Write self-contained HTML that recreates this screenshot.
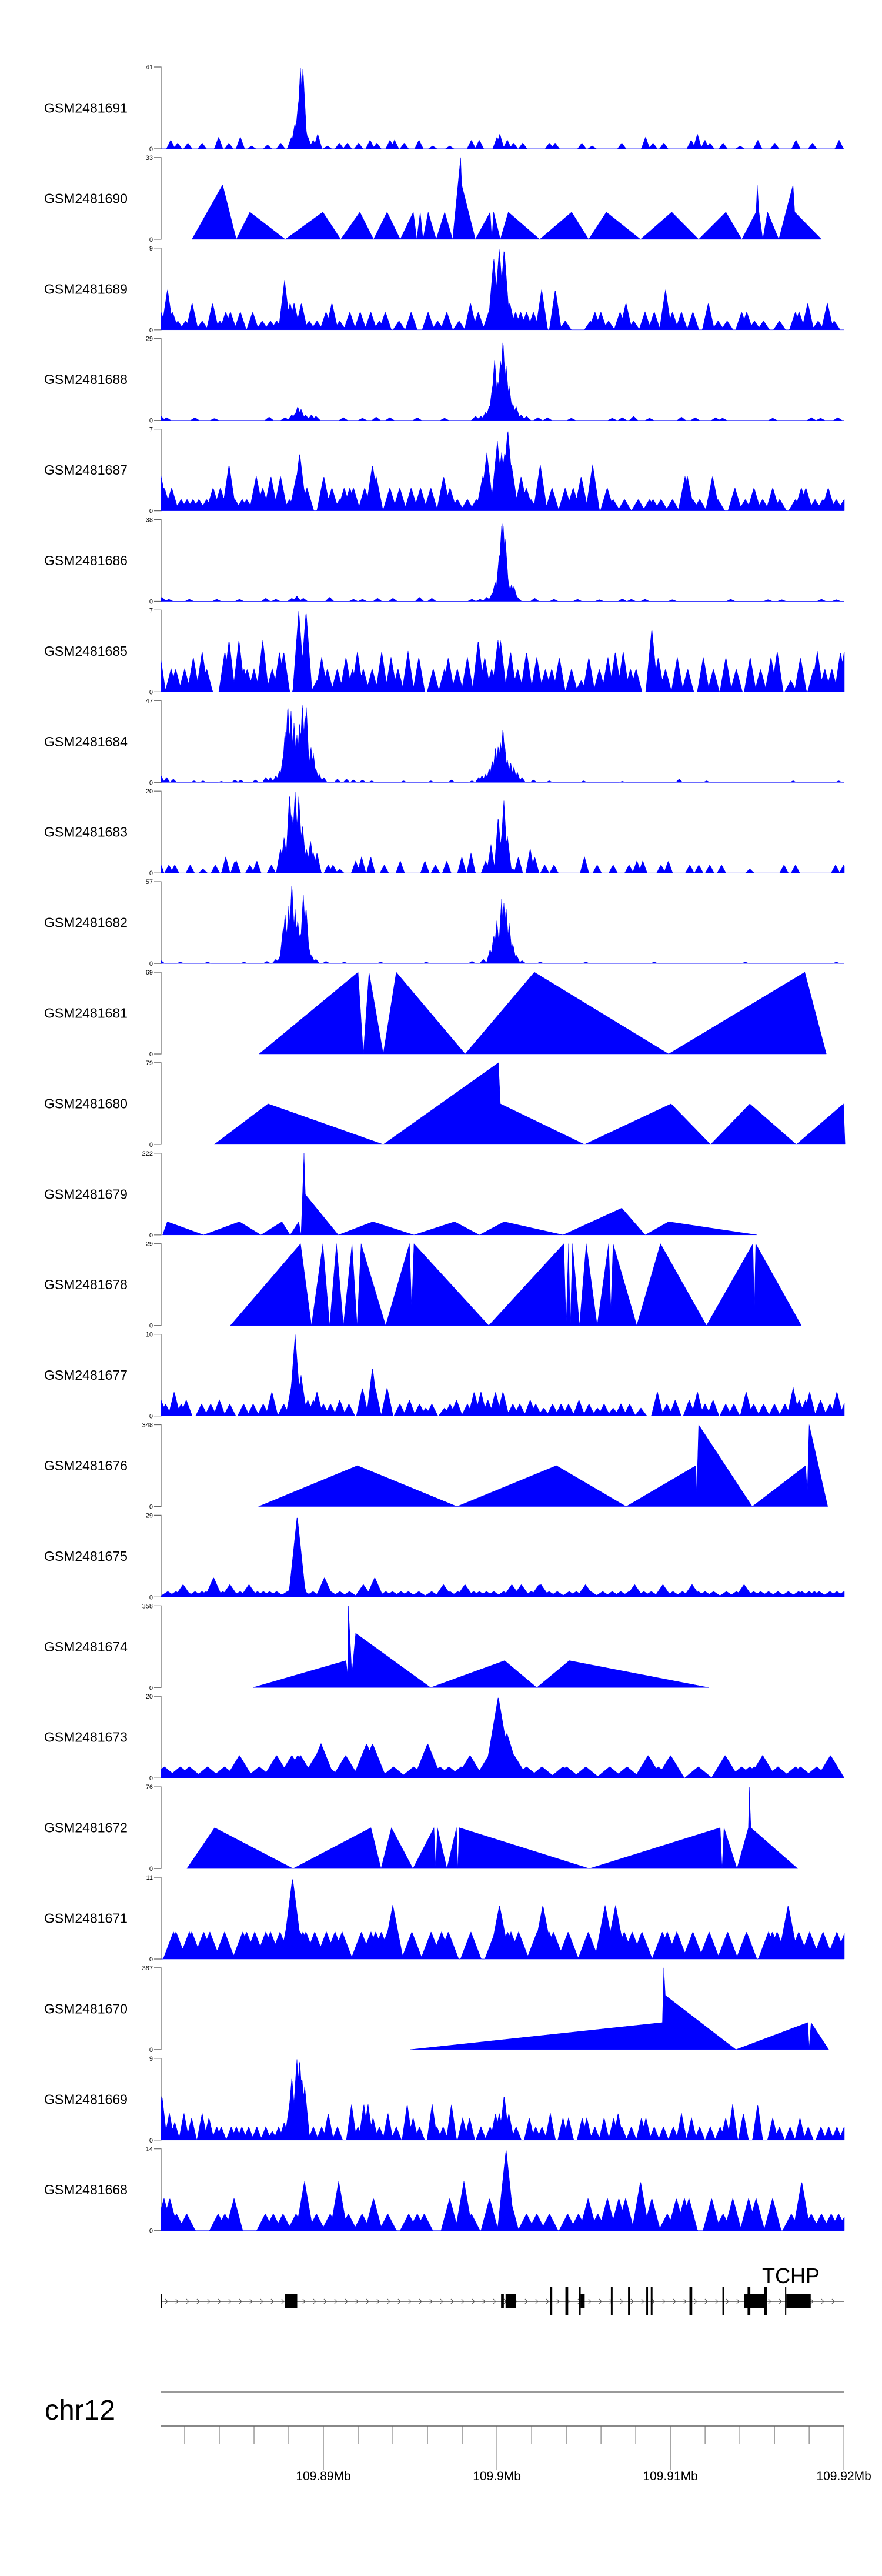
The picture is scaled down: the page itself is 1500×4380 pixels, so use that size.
<!DOCTYPE html>
<html><head><meta charset="utf-8"><title>Gviz tracks chr12</title>
<style>
html,body{margin:0;padding:0;background:#fff;}
svg{display:block;}
text{font-family:"Liberation Sans",sans-serif;}
</style></head>
<body>
<svg id="chart" width="1500" height="4380" viewBox="0 0 1500 4380" xmlns="http://www.w3.org/2000/svg">
<rect x="0" y="0" width="1500" height="4380" fill="#fff"/>
<g id="tracks"></g>
<g id="gene"></g>
<g id="axis"></g>
</svg>
<script>
// ---- genomic coordinates in kb offset from 109.88 Mb ----
const trackNames = ["GSM2481691","GSM2481690","GSM2481689","GSM2481688","GSM2481687","GSM2481686","GSM2481685","GSM2481684","GSM2481683","GSM2481682","GSM2481681","GSM2481680","GSM2481679","GSM2481678","GSM2481677","GSM2481676","GSM2481675","GSM2481674","GSM2481673","GSM2481672","GSM2481671","GSM2481670","GSM2481669","GSM2481668"];
const trackMax = [41,33,9,29,7,38,7,47,20,57,69,79,222,29,10,348,29,358,20,76,11,387,9,14];
const trackKind = ["spike","line","spike","spike","spike","spike","spike","spike","spike","spike","line","line","line","line","spike","line","spike","line","spike","line","spike","line","spike","spike"];
const spikeHalfWidth = [0.25,0,0.35,0.25,0.4,0.25,0.35,0.2,0.25,0.22,0,0,0,0,0.35,0,0.5,0,0.8,0,0.6,0,0.3,0.5];

const pos1691=[1.20,1.60,2.19,3.01,3.96,4.55,5.21,5.86,6.78,7.54,8.16,8.36,8.55,8.68,8.82,8.95,9.11,9.41,9.67,10.23,10.92,11.38,12.03,12.69,13.08,13.84,14.10,14.66,15.51,16.30,17.28,18.53,18.99,20.01,20.17,20.60,20.96,21.49,23.03,23.36,24.90,25.49,27.20,28.57,29.0,29.62,31.20,31.56,31.99,32.28,33.04,34.02,35.04,36.02,37.24,38.19,39.73];
const val1691=[4.5,3,3,3,6,3,6,1.5,2,3,6,13,23,41,41,12,6,4.5,7.5,1.5,3,3,3,4.5,3,4.5,4.5,3,4.5,1.5,1.5,4.5,4.5,6,7.5,4.5,3,3,3,3,3,1.5,3,6,3,3,4.5,7.5,4.5,3,3,1.5,4.5,3,4.5,3,4.5];

const pos1690=[2.42,4.19,4.98,5.76,7.80,9.97,11.0,12.10,12.89,13.67,14.43,15.18,15.38,15.58,15.74,16.04,16.50,16.99,17.45,17.91,17.97,18.76,19.61,19.71,19.81,20.20,20.66,22.47,24.31,25.29,26.31,28.28,30.08,31.63,33.20,34.12,34.94,35.01,35.11,35.33,35.60,36.25,37.07,37.17,38.71];
const val1690=[0,22,0,11,0,11,0,11,0,11,0,11,0,11,0,11,0,11,0,33,22,0,11,0,11,0,11,0,11,0,11,0,11,0,11,0,11,22,11,0,11,0,22,11,0];

const pos1689=[0.64,1.01,1.30,1.61,2.06,2.43,3.01,3.61,4.03,4.37,4.64,5.21,5.92,6.47,6.95,7.31,7.76,8.08,8.31,8.73,9.18,9.63,10.15,10.49,10.94,11.52,12.12,12.73,13.23,13.57,14.36,15.06,16.04,16.59,17.11,17.82,18.48,18.93,19.53,19.82,20.14,20.29,20.42,20.74,21.08,21.37,21.71,22.11,22.58,23.37,23.94,25.39,25.65,25.99,26.44,27.10,27.44,27.88,28.54,29.07,29.72,30.12,30.64,31.30,32.19,32.75,33.27,34.11,34.40,34.85,35.37,36.29,37.21,37.42,37.92,38.52,39.05,39.44];
const val1689=[2,4.5,2,1,1,3,1,3,1,2,2,2,2,1,1,1,5.5,3,3,3,1,1,2,3,1,2,2,2,1,2,1,2,2,1,2,1,3,2,2,8,9,5,9,3,2,2,2,2,4.5,4.5,1,1,2,2,1,2,3,1,2,2,4.5,2,2,2,3,1,1,2,2,1,1,1,2,2,3,1,3,1];

const pos1688=[0.64,0.96,2.59,3.72,6.87,7.79,8.18,8.37,8.52,8.71,8.97,9.31,9.57,11.15,12.25,13.04,13.83,15.41,16.98,18.77,19.08,19.35,19.56,19.74,19.87,20.06,20.21,20.35,20.53,20.71,20.92,21.11,21.40,21.71,22.37,22.92,24.29,26.65,27.23,27.88,28.80,30.64,31.43,32.61,33.01,35.90,38.13,38.66,39.65];
const val1688=[1.5,1,1,0.7,1.2,1,2,2.5,5,4,2,2,1.5,1,0.8,1.2,1,1,0.8,1.5,1.5,3,5,12,22,14,22,29,20,12,6,5,2,1.5,1,1,0.8,0.8,1,1.5,0.8,1.2,1,1,0.8,0.8,1,0.8,1];

const pos1687=[0.64,0.83,1.25,1.80,2.14,2.48,2.82,3.27,3.64,4.06,4.56,4.90,5.32,5.58,6.13,6.50,6.97,7.31,7.53,8.05,8.44,8.63,8.84,9.05,10.02,10.49,10.94,11.20,11.52,11.73,12.38,12.83,13.04,13.83,15.06,16.19,16.93,17.72,18.30,18.82,19.19,19.42,19.61,20.03,20.27,20.45,20.63,20.84,21.40,21.97,22.50,23.18,23.94,24.86,25.52,26.36,26.70,27.36,28.15,28.80,29.46,30.12,30.85,30.98,31.30,31.69,32.43,32.74,33.72,34.32,34.82,35.32,37.21,37.55,37.81,38.34,38.79,39.10,39.57,40.02,14.4,15.6,17.3,21.7,24.4,29.0,36.3,35.9];
const val1687=[3,2,2,1,1,1,1,1,2,2,4,1,1,1,3,2,3,1,3,1,3,5,2,2,3,2,1,2,2,2,2,4,3,2,2,2,3,1,1,1,3,5,1,6,5,5,7,4,3,1,4,2,2,3,4,2,1,1,1,1,1,1,3,3,1,1,3,1,2,1,2,1,1,2,2,1,1,2,1,1,2,2,2,2,2,1,1,2];

const pos1686=[0.69,1.09,2.27,3.85,5.16,6.68,7.26,8.18,8.47,8.84,10.36,11.73,12.25,13.12,14.01,15.54,16.25,18.56,19.03,19.42,19.74,19.90,20.14,20.27,20.35,20.48,20.66,20.84,20.98,21.18,22.18,23.29,24.65,25.91,27.23,27.75,28.54,30.12,33.48,35.63,36.42,38.71,39.57];
const val1686=[2,1,1,1,1,1.5,1,1.5,2.5,1.5,2,1,1,1.5,1.5,2,1.5,1,1,2,4,9,22,35,38,30,9,8,7,2,1.5,1,1,0.8,1.2,1,1,0.8,1,0.8,0.8,1,0.8];

const pos1685=[0.56,1.22,1.48,3.01,3.27,4.32,4.56,5.13,5.42,5.61,6.50,7.05,7.47,7.71,8.58,9.00,9.63,10.23,11.68,11.96,12.81,13.36,14.88,16.33,16.98,17.72,18.93,20.06,20.21,20.79,21.71,23.16,24.86,25.91,26.83,27.28,28.02,28.93,29.72,32.48,33.80,36.16,36.94,38.26,38.47,39.31,39.81,40.02,2.0,2.5,6.0,9.9,10.8,11.3,12.3,13.9,14.3,15.5,17.2,18.3,19.3,19.7,21.2,22.3,22.8,23.6,24.3,25.3,26.4,27.7,29.3,30.4,31.0,31.9,33.2,34.6,35.2,35.8,37.5,38.9];
const val1685=[3.5,2,2,3.5,2,3.5,4.5,4.5,2,2,4.5,2,3.5,3.5,7,7,1,2,2,3.5,2,3.5,3.5,2,2,2,4.5,4.5,4.5,3.5,3.5,2,1,2,3.5,3.5,2,5.5,2,2,2,3.5,1,2,3.5,2,3.5,3.5,2,3,2,3,2,3,2,3,2,3,3,3,3,2,2,3,2,3,2,3,3,2,3,3,2,3,3,3,2,3,3,2];

const pos1684=[0.64,0.96,1.35,2.54,3.06,4.11,4.90,5.24,6.08,6.68,6.95,7.26,7.47,7.66,7.79,7.95,8.13,8.31,8.47,8.63,8.79,8.94,9.02,9.10,9.28,9.42,9.57,9.76,10.02,10.81,11.33,11.73,12.25,12.78,14.62,16.19,17.38,18.56,18.95,19.14,19.35,19.56,19.74,19.92,20.08,20.21,20.35,20.45,20.61,20.79,20.98,21.18,21.45,22.11,23.02,25.00,27.23,30.51,32.09,37.08,39.70];
const val1684=[4,3,2,1,1,0.7,1.5,1.5,1.5,3,3,4,7,14,30,46,42,35,28,36,47,40,44,20,21,17,8,5,3,2,2,1.5,1.5,1,1,1,1.5,1,3,4,5,8,13,21,22,24,32,22,13,12,9,6,3,1.5,1,1,0.7,2,1,1,1];

const pos1683=[0.56,1.09,1.43,2.32,3.06,3.77,4.37,4.90,4.98,5.76,6.16,7.00,7.53,7.74,8.05,8.18,8.37,8.58,8.79,9.02,9.26,9.42,9.63,10.28,10.55,10.94,11.86,12.20,12.73,13.51,14.43,15.85,16.46,17.11,17.98,18.51,19.35,19.66,20.08,20.27,20.40,20.61,20.92,21.24,21.92,22.18,22.76,23.29,25.05,25.78,26.70,27.62,28.07,28.41,29.46,29.88,31.12,31.64,32.27,32.95,34.58,36.55,37.21,39.52,39.99];
const val1683=[3,2,2,2,1,2,4,3,3,2,3,2,6,9,20,15,20,19,12,6,8,5,5,2,2,1,3,4,4,2,3,3,2,3,4,5,3,7,14,9,18,9,1,4,6,4,2,2,4,2,2,2,3,3,2,3,2,2,2,2,1,2,2,2,2];

const pos1682=[0.64,1.75,3.32,5.42,6.74,7.26,7.53,7.68,7.79,8.00,8.18,8.37,8.52,8.66,8.84,9.00,9.15,9.31,9.57,10.15,11.20,13.30,15.93,18.56,19.22,19.61,19.82,20.00,20.27,20.40,20.53,20.71,20.92,21.13,21.45,22.50,25.13,29.07,34.32,39.57];
const val1682=[2,1,1,1,1.5,3,6,25,35,40,57,38,31,22,49,40,12,6,3,1.5,1,1,1,1.5,3,10,20,30,45,43,40,28,14,6,2,1,1,1,1,1];

const pos1681=[6.29,12.0,12.30,12.63,13.45,14.20,18.17,22.16,29.90,37.75,38.99];
const val1681=[0,69,0,69,0,69,0,69,0,69,0];

const pos1680=[3.70,6.81,13.45,20.09,20.20,25.05,30.04,32.32,34.58,37.26,39.98,40.07];
const val1680=[0,39.3,0,79,39.3,0,39.3,0,39.3,0,39.3,0];

const pos1679=[0.73,1.0,3.09,5.16,6.40,7.61,8.08,8.58,8.71,8.88,8.96,10.86,12.85,15.22,17.56,18.99,20.42,23.81,27.20,28.55,29.90,35.0];
const val1679=[0,36,0,36,0,36,0,36,0,222,110,0,36,0,36,0,36,0,73,0,36,0];

const pos1678=[4.64,8.68,9.31,9.97,10.36,10.75,11.15,11.65,11.94,12.17,13.59,14.96,15.09,15.22,19.53,23.86,23.99,24.13,24.23,24.36,24.76,25.15,25.78,26.44,26.57,26.70,28.06,29.43,32.08,34.76,34.84,34.92,37.55];
const val1678=[0,29,0,29,0,29,0,29,0,29,0,29,6,29,0,29,0,29,0,29,0,29,0,29,6,29,0,29,0,29,6,29,0];

const pos1677=[0.64,1.40,2.09,2.98,4.00,5.95,6.53,7.03,7.71,8.18,8.37,8.52,8.71,9.10,9.42,9.63,10.41,10.94,11.47,12.25,12.83,12.99,13.67,14.41,14.96,15.54,16.25,16.98,17.67,18.69,19.08,19.48,19.92,20.35,20.92,21.32,21.92,22.24,23.21,24.13,24.73,25.31,26.18,27.15,27.65,29.25,30.28,31.09,31.56,32.46,33.19,33.66,34.37,35.37,37.08,37.42,37.79,38.03,38.66,39.60,40.10,0.9,1.8,3.5,4.6,5.4,10.0,11.0,15.9,17.3,18.3,22.7,23.7,25.8,26.7,28.3,29.8,32.0,34.8,36.0,36.6,39.2];
const val1677=[2,3,2,1.5,2,1.5,1.5,3,1.5,4,10,5,5,2,2,3,1.5,2,1.5,3.5,6,3.5,3.5,1.5,2,1.5,1.5,1,2,3,3,2,3,3,1.5,1.5,2,1.5,1.5,1.5,2,1.5,1.5,1.5,1.5,3,2,2,3,2,1.5,1.5,3,1.5,3.5,2,2,3,2,3,2,1.5,1.5,1.5,1.5,1.5,1.5,1,1,1.5,1.5,1,1.5,1,1,1,1.5,1.5,1.5,1.5,1.5,1.5];

const pos1676=[6.26,11.96,17.70,23.43,27.45,31.47,31.52,31.63,34.72,37.80,37.89,38.0,39.07];
const val1676=[0,174,0,174,0,174,60,348,0,174,60,348,0];

const pos1675=[1.03,1.91,2.13,3.23,3.67,4.61,4.80,5.71,5.85,6.54,6.90,7.92,8.38,8.49,8.60,8.93,10.06,10.42,10.95,12.30,12.46,12.96,13.15,13.98,14.47,16.24,16.92,17.75,18.16,18.66,18.99,19.82,20.39,20.86,21.41,21.97,22.43,22.54,23.01,23.48,24.17,24.58,25.11,25.41,26.10,26.65,27.14,27.61,27.94,28.47,29.57,30.15,31.25,31.61,32.49,33.23,33.81,34.25,35.66,37.39,37.58,38.00,38.30,38.58,40.01,1.5,2.6,3.0,4.2,5.2,6.2,7.3,9.4,11.5,13.6,14.9,15.5,17.3,19.4,22.0,28.9,30.7,32.0,34.8,35.2,36.2,36.8,39.2,39.6];
const val1675=[2,4.5,2,2,7,4.5,2,4.5,2,2,2,2,10,29,10,2,7,2,2,4.5,2,7,2,2,2,2,4.5,2,4.5,2,2,2,2,4.5,4.5,2,4.5,4.5,2,2,2,2,4.5,2,2,2,2,2,4.5,2,4.5,2,4.5,2,2,2,2,4.5,2,2,2,2,2,2,2,2,2,2,2,2,2,2,2,2,2,2,2,2,2,2,2,2,2,2,2,2,2,2,2];

const pos1674=[5.93,11.30,11.39,11.44,11.64,11.86,16.18,20.45,22.30,24.17,32.21];
const val1674=[0,118,60,358,60,238,0,118,0,118,0];

const pos1673=[0.83,1.75,2.27,3.32,5.16,8.18,8.52,8.68,8.97,9.57,9.86,10.28,11.28,12.49,12.83,13.09,14.04,16.01,16.46,16.72,17.24,17.93,18.45,19.53,19.90,20.08,20.27,20.58,20.82,21.00,21.71,23.81,24.02,25.13,28.72,30.01,31.61,33.16,33.40,34.11,34.58,34.84,35.32,37.21,37.50,38.44,39.23,4.3,6.3,7.3,15.2,22.6,26.5,27.5,29.3,36.2];
const val1673=[2.8,2.8,2.8,2.8,5.6,5.6,5.6,5.6,2.8,5.6,8.5,2.8,5.6,8.5,8.5,2.8,2.8,8.5,2.8,2.8,2.8,2.8,5.6,5.6,5.6,20,14,11,5.6,5.6,2.8,2.8,2.8,2.8,5.6,5.6,2.8,5.6,2.8,2.8,2.8,2.8,5.6,2.8,2.8,2.8,5.6,2.8,2.8,5.6,2.8,2.8,2.8,2.8,2.8,2.8];

const pos1672=[2.13,3.73,8.25,12.74,13.32,13.92,15.16,16.37,16.48,16.57,17.12,17.67,17.75,17.83,25.33,32.87,32.98,33.09,33.84,34.50,34.55,34.64,37.34];
const val1672=[0,38,0,38,0,38,0,38,0,38,0,38,0,38,0,38,0,38,0,38,76,38,0];

const pos1671=[1.36,1.50,2.27,2.41,3.10,3.45,5.35,5.57,6.04,6.68,6.95,8.11,8.22,8.66,8.82,8.99,10.17,10.67,11.08,12.19,12.74,13.01,13.34,13.70,14.00,16.21,16.81,17.20,19.90,20.15,20.62,20.81,21.25,22.32,22.65,23.01,23.26,24.11,25.27,26.24,26.84,27.34,28.36,29.54,29.82,30.37,32.24,34.39,35.66,35.88,36.15,36.79,38.03,39.60,40.07,4.3,7.5,9.5,15.1,18.5,27.8,31.3,33.3,37.4,38.8];
const val1671=[3.7,3.7,3.7,3.7,3.7,3.7,3.7,3.7,3.7,3.7,3.7,7.3,11,3.7,3.7,3.7,3.7,3.7,3.7,3.7,3.7,3.7,3.7,3.7,7.3,3.7,3.7,3.7,3.7,7.3,3.7,3.7,3.7,3.7,7.3,3.7,3.7,3.7,3.7,7.3,7.3,3.7,3.7,3.7,3.7,3.7,3.7,3.7,3.7,3.7,3.7,7.3,3.7,3.7,3.7,3.7,3.7,3.7,3.7,3.7,3.7,3.7,3.7,3.7,3.7];

const pos1670=[15.02,29.54,29.62,29.71,33.78,37.92,38.0,38.11,39.13];
const val1670=[0,128,387,257,0,128,10,128,0];

const pos1669=[0.69,1.12,1.43,1.96,2.40,3.01,3.40,3.85,4.11,4.69,4.98,5.69,6.16,6.68,7.05,7.42,7.74,8.05,8.18,8.31,8.47,8.63,8.76,8.92,9.42,10.28,10.81,11.62,11.99,12.33,12.57,12.86,13.23,13.72,14.83,15.17,15.54,16.27,16.54,17.38,18.03,18.43,19.08,19.61,19.92,20.14,20.42,20.69,21.11,21.87,22.24,23.08,23.81,24.13,24.92,25.18,25.65,26.18,26.73,26.99,27.75,28.33,28.59,29.07,30.17,30.64,31.22,31.69,32.87,33.19,33.59,34.21,35.03,35.90,36.29,37.47,37.95,38.68,39.13,40.02,5.3,9.9,14.2,16.9,22.6,27.2,29.6,32.3,36.9,39.6];
const val1669=[5,3,2,3,2.5,3,2.5,1.5,1.5,1.5,1.5,1.5,1.5,1.5,1,1.5,2,4,7,4,9,9,7,6,1.5,3,1.5,4,1.5,4,4,2.5,1.5,3,4,2.5,1.5,4,1.5,4,2.5,2.5,1.5,1.5,3,3,5,3,1.5,2.5,1.5,3,2.5,2.5,2.5,2.5,1.5,2.5,2.5,3,1.5,2.5,2.5,1.5,1.5,3,2.5,1.5,1.5,2.5,4,3,4,2.5,1.5,2.5,1.5,1.5,1.5,1.5,1.5,1.5,1.5,1.5,1.5,1.5,1.5,1.5,1.5,1.5];

const pos1668=[0.81,1.14,1.53,2.12,3.93,4.32,4.85,6.65,7.11,7.67,8.42,8.91,9.60,10.39,10.88,11.44,12.23,12.89,13.71,14.92,15.41,15.81,17.28,18.10,18.53,19.58,20.53,20.76,21.71,22.30,23.03,24.08,24.70,25.26,25.82,26.37,27.03,27.42,28.28,28.93,29.82,30.35,30.81,31.07,32.38,33.04,33.60,34.51,34.94,35.89,36.97,37.57,38.12,38.71,39.27,39.70,40.12];
const val1668=[5.6,5.6,2.9,2.9,2.9,2.9,5.6,2.9,2.9,2.9,2.9,8.5,2.9,2.9,8.5,2.9,2.9,5.6,2.9,2.9,2.9,2.9,5.6,8.5,2.9,5.6,14,5.6,2.9,2.9,2.9,2.9,2.9,5.6,2.9,5.6,5.6,5.6,8.5,5.6,2.9,5.6,5.6,5.6,5.6,2.9,5.6,5.6,5.6,5.6,2.9,8.5,2.9,2.9,2.9,2.9,2.9];

const trackPos=[pos1691,pos1690,pos1689,pos1688,pos1687,pos1686,pos1685,pos1684,pos1683,pos1682,pos1681,pos1680,pos1679,pos1678,pos1677,pos1676,pos1675,pos1674,pos1673,pos1672,pos1671,pos1670,pos1669,pos1668];
const trackVal=[val1691,val1690,val1689,val1688,val1687,val1686,val1685,val1684,val1683,val1682,val1681,val1680,val1679,val1678,val1677,val1676,val1675,val1674,val1673,val1672,val1671,val1670,val1669,val1668];

// gene model (kb)
const exonStart=[7.77,20.24,20.50,23.06,23.95,24.73,24.83,26.57,27.56,28.61,28.87,31.10,33.00,34.25,34.45,35.40,36.61,36.68];
const exonEnd  =[8.49,20.40,21.09,23.19,24.11,24.83,25.06,26.67,27.69,28.71,28.97,31.26,33.10,35.50,34.61,35.56,36.68,38.09];
const exonTall =[0,0,0,1,1,1,0,1,1,1,1,1,1,0,1,1,1,0];
const geneName="TCHP";
const geneStart=0.64, geneEnd=40.03;

// axis
const axisTicksMinor=[2,4,6,8,12,14,16,18,22,24,26,28,32,34,36,38];
const axisTicksMajor=[10,20,30,40];
const axisLabels=["109.89Mb","109.9Mb","109.91Mb","109.92Mb"];

// ---- scales ----
const X0=274, X1=1436, KB0=0.644, KB1=40.03;
function xs(kb){return X0+(kb-KB0)*(X1-X0)/(KB1-KB0);}
function kbOf(x){return KB0+(x-X0)*(KB1-KB0)/(X1-X0);}
const TOP0=114, PITCH=153.9, H=139;
const NS="http://www.w3.org/2000/svg";
function mk(tag,attrs,parent){const e=document.createElementNS(NS,tag);for(const k in attrs)e.setAttribute(k,attrs[k]);parent.appendChild(e);return e;}

const gT=document.getElementById('tracks');
for(let i=0;i<trackNames.length;i++){
  const top=TOP0+i*PITCH, bot=top+H, mx=trackMax[i];
  const g=mk('g',{},gT);
  
  
  const lab=mk('text',{x:75,y:(top+bot)/2+8,'font-size':23,fill:'#000'},g);
  lab.textContent=trackNames[i];
  
  
  const ax=mk('path',{d:`M${X0-12} ${top}H${X0}V${bot}H${X0-12}`,stroke:'#666',fill:'none','stroke-width':1.2},g);
  
  
  const tmax=mk('text',{x:X0-14,y:top+4,'font-size':11,'text-anchor':'end',fill:'#000'},g);
  tmax.textContent=String(mx);
  
  
  const tz=mk('text',{x:X0-14,y:bot+4,'font-size':11,'text-anchor':'end',fill:'#000'},g);
  tz.textContent="0";
  
  
  const ys=v=>bot-Math.min(v,mx)/mx*H;
  const P=trackPos[i], V=trackVal[i];
  let d='';
  if(trackKind[i]==='line'){
    d='M'+xs(P[0]).toFixed(1)+' '+bot;
    for(let k=0;k<P.length;k++) d+='L'+xs(P[k]).toFixed(1)+' '+ys(V[k]).toFixed(1);
    d+='L'+xs(P[P.length-1]).toFixed(1)+' '+bot+'Z';
  } else {
    const hw=spikeHalfWidth[i];
    d='M'+X0+' '+bot;
    for(let x=X0;x<=X1;x+=1){
      const kb=kbOf(x); let v=0;
      for(let k=0;k<P.length;k++){const t=1-Math.abs(kb-P[k])/hw; if(t>0){const w=V[k]*t; if(w>v)v=w;}}
      d+='L'+x+' '+ys(v).toFixed(1);
    }
    d+='L'+X1+' '+bot+'Z';
  }
  const area=mk('path',{d:d,fill:'#0000ff',stroke:'#0000ff','stroke-width':0.5},g);
  
  
}

// ---- gene track ----
const gG=document.getElementById('gene');
const LY=3913;
const gl=mk('line',{x1:xs(geneStart),y1:LY,x2:xs(geneEnd),y2:LY,stroke:'#333','stroke-width':1.2},gG);


const gs=mk('line',{x1:xs(geneStart)+0.5,y1:LY-12,x2:xs(geneStart)+0.5,y2:LY+12,stroke:'#000','stroke-width':2},gG);


let chev='';
for(let x=xs(geneStart)+10;x<xs(geneEnd)-3;x+=18){chev+=`M${x-3} ${LY-4}L${x+1} ${LY}L${x-3} ${LY+4}`;}
const ch=mk('path',{d:chev,stroke:'#555',fill:'none','stroke-width':1},gG);


for(let k=0;k<exonStart.length;k++){
  const x=xs(exonStart[k]), w=Math.max(2,xs(exonEnd[k])-x);
  const tall=exonTall[k]===1;
  const r=mk('rect',{x:x,y:tall?3889:3901,width:w,height:tall?48:24,fill:'#000'},gG);
  
  
}
const gn=mk('text',{x:1345,y:3882,'font-size':36,'text-anchor':'middle',fill:'#000'},gG);
gn.textContent=geneName;



// ---- genome axis ----
const gA=document.getElementById('axis');
const l1=mk('line',{x1:X0,y1:4067,x2:X1,y2:4067,stroke:'#999','stroke-width':2},gA);


const l2=mk('line',{x1:X0,y1:4125,x2:X1,y2:4125,stroke:'#888','stroke-width':2},gA);


const chr=mk('text',{x:76,y:4114,'font-size':48,fill:'#000'},gA);
chr.textContent="chr12";


for(const t of axisTicksMinor){
  const tl=mk('line',{x1:xs(t),y1:4125,x2:xs(t),y2:4156,stroke:'#666','stroke-width':1},gA);
  
  
}
axisTicksMajor.forEach((t,j)=>{
  const tl=mk('line',{x1:xs(t),y1:4125,x2:xs(t),y2:4200,stroke:'#666','stroke-width':1},gA);
  
  
  const tx=mk('text',{x:xs(t),y:4217,'font-size':21,'text-anchor':'middle',fill:'#000'},gA);
  tx.textContent=axisLabels[j];
  
  
});
</script>
</body></html>
